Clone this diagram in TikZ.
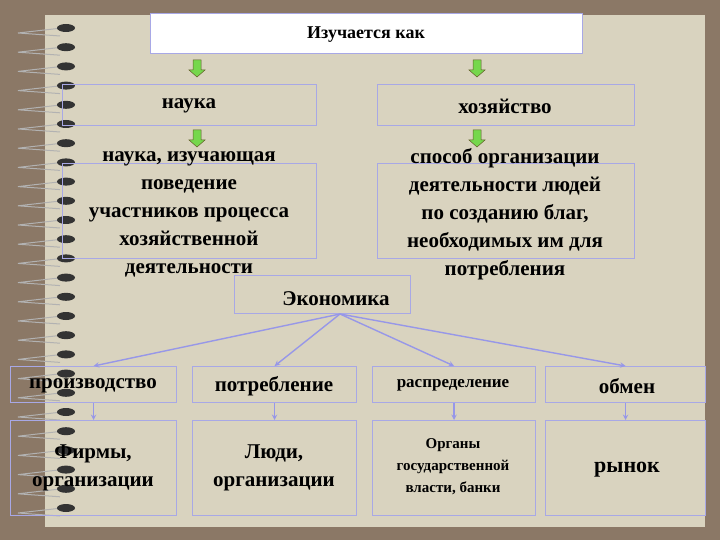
\documentclass[tikz,border=0pt]{standalone}
\usepackage{fontspec}
\setmainfont{Liberation Serif}
\definecolor{bgbrown}{HTML}{8B7866}
\definecolor{paper}{HTML}{D9D3BF}
\definecolor{lav}{HTML}{A8A8E6}
\begin{document}
\begin{tikzpicture}[x=1pt,y=-1pt,
 bx/.style={draw=lav,line width=1.2pt,anchor=north west,inner sep=0pt},
 tx/.style={font=\bfseries\fontsize{21}{28}\selectfont,align=center},
 arr/.style={draw=lav!90!blue,line width=1.4pt,-stealth},
 garr/.style={fill=green!55!olive!70,draw=olive!60!black,line width=0.5pt}]
\fill[bgbrown] (0,0) rectangle (720,540);
\useasboundingbox (0,0) rectangle (720,540);
\fill[paper] (45,15) rectangle (705,527);
% spiral
\foreach \i in {0,...,25}{
  \draw[gray!60!white,line width=1pt] (62,{28+19.2*\i}) -- (18,{33+19.2*\i}) -- (60,{36+19.2*\i});
  \fill[black!80] (66,{28+19.2*\i}) ellipse (9 and 4);
}
% top
\node[bx,fill=white,minimum width=432,minimum height=40] (top) at (150,13) {};
\node[tx,font=\bfseries\fontsize{18}{20}\selectfont] (toptx) at (366,35) {Изучается как};
\node[bx,minimum width=254,minimum height=41] (nauka) at (62,84) {};
\node[tx] (naukatx) at (189,106) {наука};
\node[bx,minimum width=257,minimum height=41] (hoz) at (377,84) {};
\node[tx] (hoztx) at (505,106) {хозяйство};
\node[bx,minimum width=254,minimum height=95] (lb) at (62,163) {};
\node[tx] (lbtx) at (189,214) {наука, изучающая\\поведение\\участников процесса\\хозяйственной\\деятельности};
\node[bx,minimum width=257,minimum height=95] (rb) at (377,163) {};
\node[tx] (rbtx) at (505,214) {способ организации\\деятельности людей\\по созданию благ,\\необходимых им для\\потребления};
\node[bx,minimum width=176,minimum height=38] (eco) at (234,275) {};
\node[tx] (ecotx) at (336,299) {Экономика};
% green arrows
\foreach \x/\y in {197/60,477/60,197/130,477/130}{
  \path[garr] (\x-4,\y) -- (\x+4,\y) -- (\x+4,\y+10) -- (\x+8,\y+10) -- (\x,\y+17) -- (\x-8,\y+10) -- (\x-4,\y+10) -- cycle;
}
% row boxes
\foreach \n/\x/\w in {p/10/166,q/192/164,r/372/163,s/545/160}{
  \node[bx,minimum width=\w,minimum height=36] (\n) at (\x,366) {};
  \node[bx,minimum width=\w,minimum height=95] (\n b) at (\x,420) {};
  \draw[arr] (\n.south) -- (\n b.north);
}
\node[tx] (ptx) at (93,386) {производство};
\node[tx] (qtx) at (274,386) {потребление};
\node[tx,font=\bfseries\fontsize{17}{20}\selectfont] (rtx) at (453,385) {распределение};
\node[tx] (stx) at (627,386) {обмен};
\node[tx] (pbtx) at (93,468) {Фирмы,\\организации};
\node[tx] (qbtx) at (274,468) {Люди,\\организации};
\node[tx,font=\bfseries\fontsize{15}{22}\selectfont] (rbtx2) at (453,467) {Органы\\государственной\\власти, банки};
\node[tx,font=\bfseries\fontsize{22}{24}\selectfont] (sbtx) at (627,470) {рынок};
\coordinate (hub) at (340,314);
\draw[arr] (hub) -- (p.north);
\draw[arr] (hub) -- (q.north);
\draw[arr] (hub) -- (r.north);
\draw[arr] (hub) -- (s.north);
\end{tikzpicture}
\end{document}
